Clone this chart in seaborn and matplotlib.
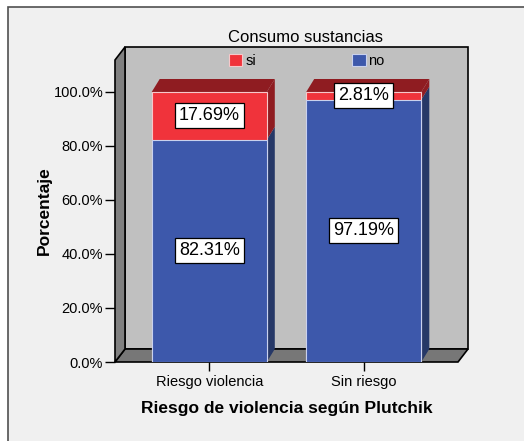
import numpy as np
import pandas as pd
import matplotlib
matplotlib.use("Agg")
import matplotlib.pyplot as plt
import seaborn as sns
from matplotlib.patches import Polygon, Rectangle, Patch
from matplotlib.ticker import FuncFormatter

categories = ["Riesgo violencia", "Sin riesgo"]
si_pct = [17.69, 2.81]
no_pct = [82.31, 97.19]
yticks = [0, 20, 40, 60, 80, 100]

RED, RED_DARK = "#f0333b", "#8f1c21"
BLUE, BLUE_DARK = "#3d58ab", "#263867"

df = pd.DataFrame({"cat": categories, "si": si_pct, "no": no_pct})
df["total"] = df["si"] + df["no"]

sns.set_style("white")
plt.rcParams["font.family"] = ["Liberation Sans", "DejaVu Sans"]
for k in ["text.color", "axes.labelcolor", "xtick.color", "ytick.color"]:
    plt.rcParams[k] = "black"

W, H = 524, 441
fig = plt.figure(figsize=(W / 100, H / 100), dpi=100)
fig.patch.set_facecolor("white")
# outer panel like SPSS output
fig.patches.append(Rectangle((8 / W, -0.01), 1.0, (434 / H) + 0.01, transform=fig.transFigure,
                             facecolor="#f0f0f0", edgecolor="#505050", lw=1.2, zorder=-5))

ax = fig.add_axes([115 / W, (H - 362) / H, 343 / W, 302 / H])
ax.set_facecolor("none")

sns.barplot(data=df, x="cat", y="total", color=RED, width=0.745, ax=ax,
            edgecolor="#f6c8ca", linewidth=0.8, saturation=1, zorder=3)
sns.barplot(data=df, x="cat", y="no", color=BLUE, width=0.745, ax=ax,
            edgecolor="#c9d1ee", linewidth=0.8, saturation=1, zorder=4)

xl, xr = -0.61, 1.61
ytop = 111.85
ax.set_xlim(xl, xr)
ax.set_ylim(0, ytop)

# pixel depth -> data units
px_x = 343 / (xr - xl)
px_y = 302 / ytop
DX, DY = 10 / px_x, 13 / px_y
bdx, bdy = 8 / px_x, 13 / px_y

kw = dict(clip_on=False, edgecolor="black", lw=1.2, zorder=1)
ax.add_patch(Polygon([(xl + DX, DY), (xr + DX, DY), (xr + DX, ytop + DY), (xl + DX, ytop + DY)],
                     facecolor="#c0c0c0", **kw))
ax.add_patch(Polygon([(xl, 0), (xr, 0), (xr + DX, DY), (xl + DX, DY)], facecolor="#777777", **kw))
ax.add_patch(Polygon([(xl, 0), (xl, ytop), (xl + DX, ytop + DY), (xl + DX, DY)],
                     facecolor="#808080", **kw))

n = len(categories)
red_bars = ax.patches[:n]
for i, p in enumerate(red_bars):
    x0, x1 = p.get_x(), p.get_x() + p.get_width()
    no, tot = no_pct[i], no_pct[i] + si_pct[i]
    fk = dict(clip_on=False, lw=0, zorder=2)
    ax.add_patch(Polygon([(x1, 0), (x1, no), (x1 + bdx, no + bdy), (x1 + bdx, bdy)],
                         facecolor=BLUE_DARK, **fk))
    ax.add_patch(Polygon([(x1, no), (x1, tot), (x1 + bdx, tot + bdy), (x1 + bdx, no + bdy)],
                         facecolor=RED_DARK, **fk))
    ax.add_patch(Polygon([(x0, tot), (x1, tot), (x1 + bdx, tot + bdy), (x0 + bdx, tot + bdy)],
                         facecolor=RED_DARK, **fk))
    cx = x0 + p.get_width() / 2
    box = dict(boxstyle="square,pad=0.22", fc="white", ec="black", lw=0.9)
    ax.text(cx, no + si_pct[i] / 2, f"{si_pct[i]:.2f}%", ha="center", va="center",
            fontsize=13, bbox=box, zorder=6)
    ax.text(cx, no / 2, f"{no_pct[i]:.2f}%", ha="center", va="center",
            fontsize=13, bbox=box, zorder=6)

for s in ax.spines.values():
    s.set_visible(False)

ax.set_yticks(yticks)
ax.yaxis.set_major_formatter(FuncFormatter(lambda v, _: f"{v:.1f}%"))
ax.tick_params(axis="y", left=True, length=7.5, width=1, color="black", pad=1, labelsize=10.5)
ax.tick_params(axis="x", bottom=True, length=6.5, width=1, color="black", pad=3, labelsize=10.5)

ax.set_xlabel("Riesgo de violencia según Plutchik", fontsize=12.5, fontweight="bold")
ax.xaxis.set_label_coords(0.5, -0.128)
ax.set_ylabel("Porcentaje", fontsize=12.5, fontweight="bold")
ax.yaxis.set_label_coords(-0.185, 0.5)

fig.text(305 / W, 1 - 37 / H, "Consumo sustancias", ha="center", va="center", fontsize=12)

handles = [Patch(facecolor=RED, edgecolor="#f6c8ca", lw=0.8),
           Patch(facecolor=BLUE, edgecolor="#c9d1ee", lw=0.8)]
fig.legend(handles, ["si", "no"], ncol=2, loc="center", bbox_to_anchor=(307 / W, 1 - 61 / H),
           frameon=False, fontsize=10.5, handlelength=0.9, handleheight=0.85,
           handletextpad=0.2, columnspacing=6.6, borderpad=0)

fig.savefig("out.png", dpi=100)
